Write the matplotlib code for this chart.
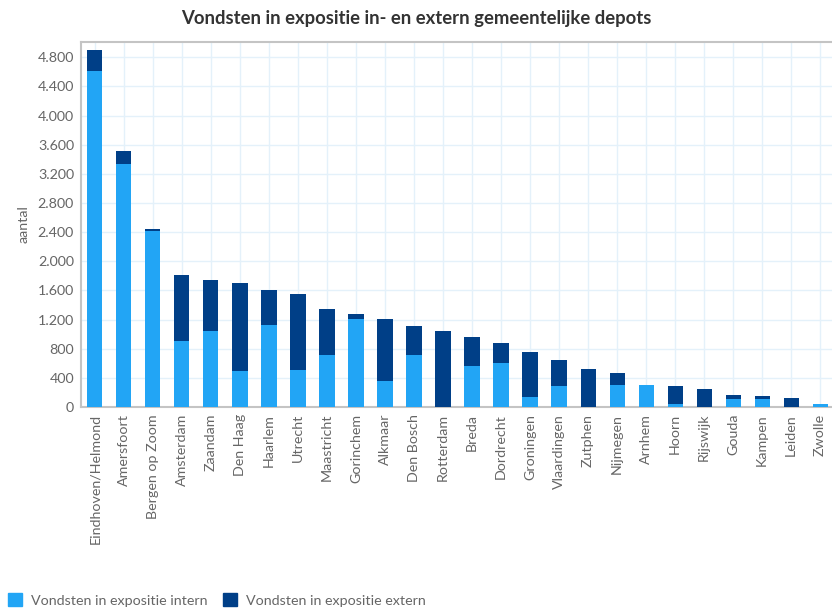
import numpy as np
import matplotlib
matplotlib.use('Agg')
import matplotlib.pyplot as plt
from matplotlib.ticker import FuncFormatter, MultipleLocator
from matplotlib.patches import Patch

plt.rcParams['font.family'] = ['Lato', 'DejaVu Sans']

# Data
gemeenten = ['Eindhoven/Helmond', 'Amersfoort', 'Bergen op Zoom', 'Amsterdam', 'Zaandam',
             'Den Haag', 'Haarlem', 'Utrecht', 'Maastricht', 'Gorinchem', 'Alkmaar',
             'Den Bosch', 'Rotterdam', 'Breda', 'Dordrecht', 'Groningen', 'Vlaardingen',
             'Zutphen', 'Nijmegen', 'Arnhem', 'Hoorn', 'Rijswijk', 'Gouda', 'Kampen',
             'Leiden', 'Zwolle']
intern = [4610, 3340, 2410, 905, 1050, 495, 1130, 505, 710, 1205, 355,
          710, 0, 560, 605, 135, 285, 0, 305, 305, 45, 0, 110, 115, 0, 45]
extern = [290, 170, 35, 905, 700, 1205, 475, 1050, 630, 70, 850,
          400, 1040, 400, 275, 620, 365, 525, 160, 0, 245, 245, 60, 30, 125, 0]

c_intern = '#22a5f5'
c_extern = '#003f87'
grey = '#666666'
fs = 10.3

fig = plt.figure(figsize=(8.32, 6.11), dpi=100)
ax = fig.add_axes([81 / 832, 1 - 407 / 611, 1 - 81 / 832, (407 - 42) / 611])

x = np.arange(len(gemeenten))
ax.bar(x, intern, width=0.52, color=c_intern, zorder=3)
ax.bar(x, extern, width=0.52, bottom=intern, color=c_extern, zorder=3)

ax.set_xlim(-0.48, 25.41)
ax.set_ylim(0, 5010)
ax.yaxis.set_major_locator(MultipleLocator(400))
ax.yaxis.set_major_formatter(FuncFormatter(lambda v, p: f'{int(v):,}'.replace(',', '.')))
ax.set_xticks(x)
ax.set_xticklabels(gemeenten, rotation=90)
ax.grid(True, color='#e4f1fa', linewidth=1, zorder=0)
ax.tick_params(axis='both', length=0, labelsize=fs, colors=grey, pad=5)

for side in ['left', 'bottom', 'top']:
    ax.spines[side].set_color('#c4c4c4')
    ax.spines[side].set_linewidth(1.5)
ax.spines['right'].set_visible(False)

ax.set_ylabel('aantal', color=grey, fontsize=fs, labelpad=6)

fig.text(0.5, 0.97, 'Vondsten in expositie in- en extern gemeentelijke depots',
         ha='center', va='center', fontsize=13.3, fontweight='bold', color='#333333')

handles = [Patch(color=c_intern, label='Vondsten in expositie intern'),
           Patch(color=c_extern, label='Vondsten in expositie extern')]
fig.legend(handles=handles, loc='lower left', bbox_to_anchor=(-0.006, -0.014), ncol=2,
           frameon=False, fontsize=fs, labelcolor=grey, handlelength=1.0,
           handleheight=1.0, handletextpad=0.6, columnspacing=1.1)

plt.savefig('out.png', dpi=100)
